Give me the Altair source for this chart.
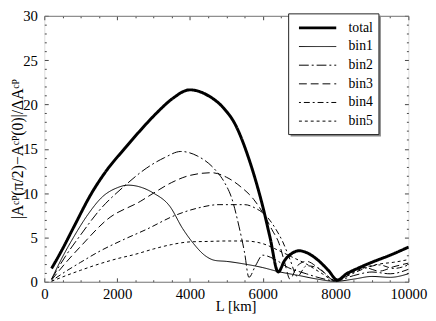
import altair as alt
import pandas as pd

series_names = ["total", "bin1", "bin2", "bin3", "bin4", "bin5"]

total_L = [200, 500, 800, 1300, 1700, 2200, 2600, 3100, 3500, 4000, 4500, 4900, 5250, 5600, 5800, 6000, 6200, 6425,
           6600, 6800, 7000, 7200, 7500, 7800, 8050, 8300, 8600, 9000, 9500, 10000]
total_v = [1.5, 3.7, 6.1, 10.0, 12.5, 15.0, 16.9, 19.1, 20.6, 21.65, 21.0, 19.7, 17.7, 14.1, 11.5, 8.5, 5.0, 1.1,
           2.4, 3.2, 3.5, 3.3, 2.5, 1.3, 0.2, 0.9, 1.5, 2.2, 3.0, 3.9]

bin1_L = [200, 500, 800, 1200, 1600, 2000, 2300, 2700, 3000, 3450, 3800, 4100, 4400, 4700, 5000, 5500, 6000, 6425,
          7000, 7500, 8000, 8500, 9000, 9500, 10000]
bin1_v = [0.3, 2.8, 5.0, 7.6, 9.6, 10.6, 10.9, 10.6, 10.0, 8.5, 6.0, 4.3, 3.0, 2.4, 2.3, 2.0, 1.6, 1.15,
          0.7, 0.3, 0.05, 0.3, 0.6, 0.5, 0.9]

bin2_L = [200, 600, 1000, 1500, 2200, 2800, 3300, 3750, 4200, 4700, 4950, 5150, 5350, 5500, 5620, 5800, 6000, 6300,
          6700, 7200, 7600, 8000, 8500, 9000, 9500, 10000]
bin2_v = [0.3, 3.0, 5.3, 8.0, 10.8, 12.8, 14.0, 14.7, 14.2, 12.6, 11.2, 9.4, 6.2, 3.3, 0.5, 1.8, 3.0, 2.6,
          1.6, 0.9, 0.4, 0.1, 0.7, 1.1, 0.9, 1.4]

bin3_L = [200, 600, 1000, 1750, 2650, 3000, 3500, 4000, 4600, 5000, 5400, 5750, 6000, 6250, 6450, 6600, 6750, 6950,
          7200, 7600, 8000, 8400, 8800, 9200, 9600, 10000]
bin3_v = [0.2, 2.2, 4.0, 7.1, 9.1, 10.0, 11.2, 12.0, 12.3, 11.8, 10.7, 9.3, 7.8, 5.9, 4.3, 2.2, 0.3, 1.8,
          2.3, 1.3, 0.1, 1.0, 1.6, 1.2, 1.7, 2.1]

bin4_L = [200, 600, 1000, 1500, 2200, 2800, 3600, 4200, 4800, 5500, 5800, 6100, 6350, 6550, 6750, 6950, 7200, 7500,
          8000, 8400, 8800, 9200, 9600, 10000]
bin4_v = [0.1, 1.2, 2.2, 3.4, 4.8, 5.9, 7.5, 8.3, 8.7, 8.7, 8.3, 7.4, 6.0, 4.5, 2.5, 0.6, 1.8, 1.6,
          0.15, 0.8, 1.5, 1.9, 1.5, 1.9]

bin5_L = [200, 600, 1000, 1500, 2000, 2500, 3000, 3500, 4000, 4500, 5000, 5500, 6000, 6400, 6800, 7200, 7600, 8000,
          8400, 8800, 9200, 9600, 10000]
bin5_v = [0.05, 0.7, 1.3, 2.0, 2.6, 3.1, 3.7, 4.2, 4.5, 4.55, 4.6, 4.6, 4.3, 3.6, 2.8, 2.0, 1.0, 0.1,
          0.9, 1.6, 2.0, 2.2, 2.5]

x_tick_values = list(range(0, 10001, 500))
y_tick_values = list(range(0, 31))

dash_range = [[1, 0], [1, 0], [10, 3, 2, 3], [8, 4], [2, 3, 6, 3], [3, 3]]
width_range = [3, 1, 1, 1, 1, 1]

rows = []
for name, Ls, vs in [("bin1", bin1_L, bin1_v), ("bin2", bin2_L, bin2_v), ("bin3", bin3_L, bin3_v),
                     ("bin4", bin4_L, bin4_v), ("bin5", bin5_L, bin5_v), ("total", total_L, total_v)]:
    for l, v in zip(Ls, vs):
        rows.append({"series": name, "L": l, "v": v})
df = pd.DataFrame(rows)
df_total = df[df["series"] == "total"]

FONT = "Liberation Serif"
GRAY = "#7a7a7a"
TICK = "#444444"

xscale = alt.Scale(domain=[0, 10000], nice=False, zero=False)
yscale = alt.Scale(domain=[0, 30], nice=False, zero=False)

x_grid_dash = {"condition": {"test": "datum.value % 2000 === 0", "value": [4, 1000]}, "value": [2, 1000]}
y_grid_dash = {"condition": {"test": "datum.value % 5 === 0", "value": [4, 1000]}, "value": [2, 1000]}

legend_dash = alt.Legend(
    title=None, orient="none", legendX=249, legendY=-2, symbolType="stroke", symbolSize=1444,
    symbolStrokeColor="black", symbolStrokeWidth=alt.ExprRef(expr="datum.value === 'total' ? 3 : 1"),
    labelFont=FONT, labelFontSize=14, labelColor="black",
    padding=5, rowPadding=0, clipHeight=18.6,
    symbolOffset=4, labelOffset=11,
)

lines = alt.Chart(df).mark_line(color="black", interpolate="monotone").encode(
    x=alt.X("L:Q", scale=xscale, axis=alt.Axis(
        values=x_tick_values, format="d", labelFlush=False,
        labelExpr="datum.value % 2000 === 0 ? datum.label : ''",
        title="L [km]", titleFont=FONT, titleFontSize=15, titleFontWeight="normal", titleColor="black",
        titleX=195, titleY=17,
        labelFont=FONT, labelFontSize=15, labelColor="black", labelPadding=5,
        ticks=False, domainColor=GRAY, domainWidth=1,
        grid=True, gridDash=x_grid_dash, gridColor=TICK, gridWidth=1)),
    y=alt.Y("v:Q", scale=yscale, axis=alt.Axis(
        values=y_tick_values, labelFlush=False,
        labelExpr="datum.value % 5 === 0 ? datum.label : ''",
        title="|Aᶜᴾ(π/2)−Aᶜᴾ(0)|/ΔAᶜᴾ", titleFont=FONT, titleFontSize=16, titleFontWeight="normal",
        titleColor="black", titleX=-27, titleBaseline="middle",
        labelFont=FONT, labelFontSize=15, labelColor="black", labelPadding=7,
        ticks=False, domain=False,
        grid=True, gridDash=y_grid_dash, gridColor=TICK, gridWidth=1)),
    strokeDash=alt.StrokeDash("series:N", scale=alt.Scale(type="ordinal", domain=series_names, range=dash_range),
                              legend=legend_dash),
    strokeWidth=alt.StrokeWidth("series:N", scale=alt.Scale(type="ordinal", domain=series_names, range=width_range),
                                legend=None),
)

frame = alt.Chart(df_total).mark_line(opacity=0).encode(
    x=alt.X("L:Q", scale=xscale, axis=alt.Axis(
        orient="top", values=x_tick_values, labels=False, ticks=False, title=None,
        domainColor=GRAY, domainWidth=1,
        grid=True, gridDash=x_grid_dash, gridColor=TICK, gridWidth=1)),
    y=alt.Y("v:Q", scale=yscale, axis=alt.Axis(
        orient="right", values=y_tick_values, labels=False, ticks=False, title=None, domain=False,
        grid=True, gridDash=y_grid_dash, gridColor=TICK, gridWidth=1)),
)

box_df = pd.DataFrame({"k": [0]})
legend_shadow = alt.Chart(box_df).mark_rect(fill="#8a8a8a", strokeWidth=0).encode(
    x=alt.value(251), x2=alt.value(343), y=alt.value(0), y2=alt.value(123)
)
legend_box = alt.Chart(box_df).mark_rect(fill="white", stroke="#222222", strokeWidth=1).encode(
    x=alt.value(249), x2=alt.value(341), y=alt.value(-2), y2=alt.value(121)
)

chart = alt.layer(lines, frame, legend_shadow, legend_box).resolve_scale(
    x="independent", y="independent"
).properties(
    width=371, height=271,
    autosize=alt.AutoSizeParams(type="none"),
    padding={"left": 37, "top": 5, "right": 20, "bottom": 37},
).configure_view(stroke=None).configure(background="white", font=FONT)

chart.save("out.html", embed_options={"renderer": "svg", "actions": False})
